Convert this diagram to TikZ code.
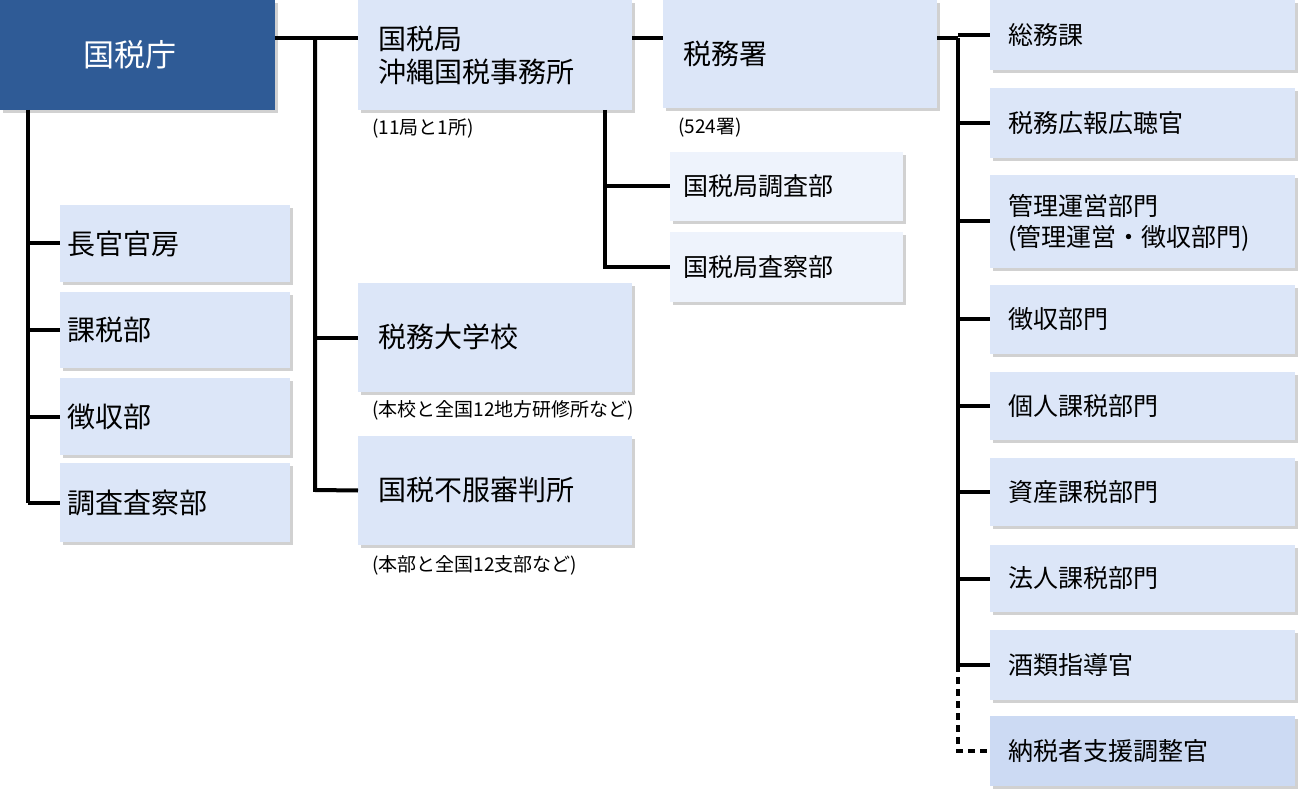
\documentclass[tikz,border=0pt]{standalone}
\usepackage{fontspec}
\setmainfont{Noto Sans CJK JP}
\definecolor{lb}{HTML}{DCE6F8}
\definecolor{vlb}{HTML}{EEF3FC}
\definecolor{db}{HTML}{2F5B96}
\definecolor{mb}{HTML}{CCDAF3}
\begin{document}
\begin{tikzpicture}[x=1pt,y=-1pt,
  bx/.style={fill=lb,inner sep=0pt},
  ln/.style={line width=4pt},
  lab/.style={anchor=west,font=\fontsize{19}{22}\selectfont,inner sep=0pt}]
\useasboundingbox (0,0) rectangle (1300,791);
\fill[white] (0,0) rectangle (1300,791);
\newcommand\bbox[6]{%
  \fill[black!18] (#2+3,#3+3) rectangle (#4+3,#5+3);
  \fill[#6] (#2,#3) rectangle (#4,#5);
  \coordinate (#1) at (#2,{(#3+#5)/2});}
% boxes
\bbox{nta}{0}{0}{275}{110}{db}
\node[anchor=west,text=white,font=\fontsize{31}{34}\selectfont] (ntat) at (80,55) {国税庁};
\bbox{kzk}{358}{0}{632}{110}{lb}
\node[anchor=west,align=left,font=\fontsize{28}{33}\selectfont] (kzkt) at (375,55) {国税局\\沖縄国税事務所};
\bbox{zms}{663}{0}{937}{108}{lb}
\node[anchor=west,font=\fontsize{28}{31}\selectfont] (zmst) at (680,54) {税務署};
\bbox{dgk}{358}{283}{632}{392}{lb}
\node[anchor=west,font=\fontsize{28}{31}\selectfont] (dgkt) at (375,337) {税務大学校};
\bbox{fuf}{358}{436}{632}{545}{lb}
\node[anchor=west,font=\fontsize{28}{31}\selectfont] (fuft) at (375,490) {国税不服審判所};
\bbox{cs}{670}{152}{903}{221}{vlb}
\node[anchor=west,font=\fontsize{25}{28}\selectfont] (cst) at (680,186) {国税局調査部};
\bbox{ss}{670}{232}{903}{302}{vlb}
\node[anchor=west,font=\fontsize{25}{28}\selectfont] (sst) at (680,267) {国税局査察部};
% left
\foreach \n/\a/\b/\t in {l1/205/282/長官官房,l2/292/368/課税部,l3/378/455/徴収部,l4/463/542/調査査察部}{
  \bbox{\n}{60}{\a}{290}{\b}{lb}
  \node[anchor=west,font=\fontsize{28}{31}\selectfont] (\n t) at (64,{(\a+\b)/2}) {\t};}
% right
\foreach \n/\a/\b/\t in {r1/0/70/総務課,r2/88/158/税務広報広聴官,r4/285/354/徴収部門,r5/372/440/個人課税部門,r6/458/526/資産課税部門,r7/545/612/法人課税部門,r8/630/700/酒類指導官}{
  \bbox{\n}{990}{\a}{1295}{\b}{lb}
  \node[anchor=west,font=\fontsize{25}{28}\selectfont] (\n t) at (1005,{(\a+\b)/2}) {\t};}
\bbox{r3}{990}{175}{1295}{268}{lb}
\node[anchor=west,align=left,font=\fontsize{25}{31}\selectfont] (r3t) at (1005,223) {管理運営部門\\(管理運営・徴収部門)};
\bbox{r9}{990}{716}{1295}{786}{mb}
\node[anchor=west,font=\fontsize{25}{28}\selectfont] (r9t) at (1005,751) {納税者支援調整官};
% labels
\node[lab] (la1) at (372,128) {(11局と1所)};
\node[lab] (la2) at (678,128) {(524署)};
\node[lab] (la3) at (372,410) {(本校と全国12地方研修所など)};
\node[lab] (la4) at (372,565) {(本部と全国12支部など)};
% connectors
\coordinate (v1t) at (315,38); \coordinate (v1b) at (315,490);
\draw[ln] (275,38) -- (kzk|-v1t);
\draw[ln] (v1t) -- (v1b) -- (fuf);
\draw[ln] (v1t|-dgk) -- (dgk);
\draw[ln] (632,38) -- (663,38);
\draw[ln] (28,110) -- (28,503);
\foreach \n in {l1,l2,l3,l4} \draw[ln] (28,0|-\n) -- (\n);
\draw[ln] (605,110) -- (605,267) -- (ss);
\draw[ln] (605,0|-cs) -- (cs);
\draw[ln] (937,38) -- (958,38);
\draw[ln] (958,38) -- (958,665);
\foreach \n in {r1,r2,r3,r4,r5,r6,r7,r8} \draw[ln] (958,0|-\n) -- (\n);
\draw[ln,dash pattern=on 7pt off 5pt] (958,665) -- (958,751) -- (r9);
\end{tikzpicture}
\end{document}
